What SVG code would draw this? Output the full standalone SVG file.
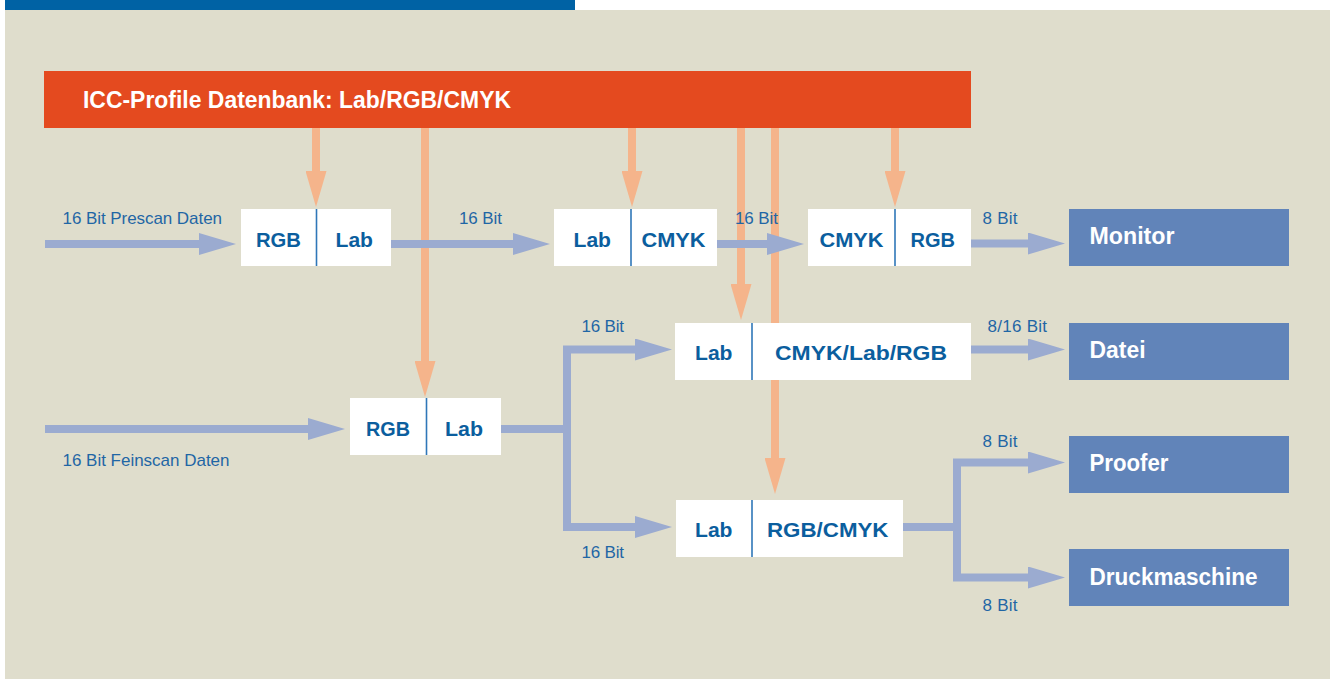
<svg xmlns="http://www.w3.org/2000/svg" width="1333" height="679" viewBox="0 0 1333 679">
<defs>
<style>
.bg{fill:#dfddcc}
.box{fill:#ffffff}
.div{stroke:#2f77b8;stroke-width:1.6}
.lbl{font-family:"Liberation Sans",Arial,sans-serif;font-weight:bold;font-size:21px;fill:#0b5e9e}
.tgt{fill:#6184b9}
.tlbl{font-family:"Liberation Sans",Arial,sans-serif;font-weight:bold;font-size:23px;fill:#ffffff}
.small{font-family:"Liberation Sans",Arial,sans-serif;font-size:17px;fill:#1f66a5}
.blue{fill:none;stroke:#9babd0;stroke-width:8;stroke-linejoin:miter}
.orange{fill:none;stroke:#f5b48b;stroke-width:8}
</style>
<marker id="ab" viewBox="0 0 37 22" refX="1" refY="11" markerWidth="37" markerHeight="22" markerUnits="userSpaceOnUse" orient="auto">
<path d="M0,0 L37,11 L0,22 z" fill="#9babd0"/>
</marker>
<marker id="ao" viewBox="0 0 36 21" refX="1" refY="10.5" markerWidth="36" markerHeight="21" markerUnits="userSpaceOnUse" orient="auto">
<path d="M0,0 L36,10.5 L0,21 z" fill="#f5b48b"/>
</marker>
</defs>
<rect x="0" y="0" width="1333" height="679" fill="#ffffff"/>
<rect class="bg" x="5" y="10" width="1325" height="669"/>
<rect x="5" y="0" width="570" height="10" fill="#0062a4"/>

<g id="connectors">
<path class="orange" d="M316,128 V172" marker-end="url(#ao)"/>
<path class="orange" d="M425,128 V362" marker-end="url(#ao)"/>
<path class="orange" d="M632,128 V172" marker-end="url(#ao)"/>
<path class="orange" d="M741,128 V285" marker-end="url(#ao)"/>
<path class="orange" d="M775,128 V459" marker-end="url(#ao)"/>
<path class="orange" d="M895,128 V172" marker-end="url(#ao)"/>
<path class="blue" d="M45,244 H200" marker-end="url(#ab)"/>
<path class="blue" d="M391,244 H514" marker-end="url(#ab)"/>
<path class="blue" d="M716,244 H768" marker-end="url(#ab)"/>
<path class="blue" d="M971,243.5 H1029" marker-end="url(#ab)"/>
<path class="blue" d="M45,429 H309" marker-end="url(#ab)"/>
<path class="blue" d="M501,429 H567"/>
<path class="blue" d="M567,527 V349.5 H636" marker-end="url(#ab)"/>
<path class="blue" d="M567,349.5 V527 H636" marker-end="url(#ab)"/>
<path class="blue" d="M971,349.5 H1029" marker-end="url(#ab)"/>
<path class="blue" d="M903,527 H957"/>
<path class="blue" d="M957,527 V462.5 H1029" marker-end="url(#ab)"/>
<path class="blue" d="M957,462.5 V577.5 H1029" marker-end="url(#ab)"/>
</g>

<g id="icc-db">
<rect x="44" y="71" width="927" height="57" fill="#e44a1f"/>
<text x="83" y="108" font-family="Liberation Sans, Arial, sans-serif" font-weight="bold" font-size="23.5" fill="#ffffff" textLength="428" lengthAdjust="spacingAndGlyphs">ICC-Profile Datenbank: Lab/RGB/CMYK</text>
</g>

<g id="node-rgb-lab-1">
<rect class="box" x="241" y="209" width="150" height="57"/>
<line class="div" x1="316.5" y1="209" x2="316.5" y2="266"/>
<text class="lbl" x="256" y="246.5" textLength="45" lengthAdjust="spacingAndGlyphs">RGB</text>
<text class="lbl" x="335.5" y="246.5" textLength="37.5" lengthAdjust="spacingAndGlyphs">Lab</text>
</g>

<g id="node-lab-cmyk">
<rect class="box" x="554" y="209" width="163" height="57"/>
<line class="div" x1="631" y1="209" x2="631" y2="266"/>
<text class="lbl" x="573.5" y="246.5" textLength="37.5" lengthAdjust="spacingAndGlyphs">Lab</text>
<text class="lbl" x="641.5" y="246.5" textLength="64" lengthAdjust="spacingAndGlyphs">CMYK</text>
</g>

<g id="node-cmyk-rgb">
<rect class="box" x="808" y="209" width="163" height="57"/>
<line class="div" x1="895" y1="209" x2="895" y2="266"/>
<text class="lbl" x="819.5" y="246.5" textLength="64" lengthAdjust="spacingAndGlyphs">CMYK</text>
<text class="lbl" x="910.5" y="246.5" textLength="44.5" lengthAdjust="spacingAndGlyphs">RGB</text>
</g>

<g id="node-lab-cmyklabrgb">
<rect class="box" x="675" y="323" width="296" height="57"/>
<line class="div" x1="752" y1="323" x2="752" y2="380"/>
<text class="lbl" x="695" y="359.5" textLength="37.5" lengthAdjust="spacingAndGlyphs">Lab</text>
<text class="lbl" x="775" y="359.5" textLength="172" lengthAdjust="spacingAndGlyphs">CMYK/Lab/RGB</text>
</g>

<g id="node-rgb-lab-2">
<rect class="box" x="350" y="398" width="151" height="57"/>
<line class="div" x1="426.5" y1="398" x2="426.5" y2="455"/>
<text class="lbl" x="366" y="435.5" textLength="44" lengthAdjust="spacingAndGlyphs">RGB</text>
<text class="lbl" x="445" y="435.5" textLength="38" lengthAdjust="spacingAndGlyphs">Lab</text>
</g>

<g id="node-lab-rgbcmyk">
<rect class="box" x="676" y="500" width="227" height="57"/>
<line class="div" x1="752" y1="500" x2="752" y2="557"/>
<text class="lbl" x="695" y="536.5" textLength="37.5" lengthAdjust="spacingAndGlyphs">Lab</text>
<text class="lbl" x="767" y="536.5" textLength="121.5" lengthAdjust="spacingAndGlyphs">RGB/CMYK</text>
</g>

<g id="node-monitor">
<rect class="tgt" x="1069" y="209" width="220" height="57"/>
<text class="tlbl" x="1089.5" y="244" textLength="85" lengthAdjust="spacingAndGlyphs">Monitor</text>
</g>
<g id="node-datei">
<rect class="tgt" x="1069" y="323" width="220" height="57"/>
<text class="tlbl" x="1089.5" y="357.5" textLength="56" lengthAdjust="spacingAndGlyphs">Datei</text>
</g>
<g id="node-proofer">
<rect class="tgt" x="1069" y="436" width="220" height="57"/>
<text class="tlbl" x="1089.5" y="470.5" textLength="79" lengthAdjust="spacingAndGlyphs">Proofer</text>
</g>
<g id="node-druckmaschine">
<rect class="tgt" x="1069" y="549" width="220" height="57"/>
<text class="tlbl" x="1089.5" y="584.5" textLength="168" lengthAdjust="spacingAndGlyphs">Druckmaschine</text>
</g>

<g id="labels">
<text class="small" x="62.5" y="224" textLength="159.5">16 Bit Prescan Daten</text>
<text class="small" x="459" y="224" textLength="43">16 Bit</text>
<text class="small" x="735" y="224" textLength="43">16 Bit</text>
<text class="small" x="982.5" y="224" textLength="35">8 Bit</text>
<text class="small" x="581.5" y="332" textLength="42.5">16 Bit</text>
<text class="small" x="987.5" y="332" textLength="59.5">8/16 Bit</text>
<text class="small" x="62.5" y="466" textLength="167">16 Bit Feinscan Daten</text>
<text class="small" x="982.5" y="447" textLength="35">8 Bit</text>
<text class="small" x="581.5" y="558" textLength="42.5">16 Bit</text>
<text class="small" x="982.5" y="611" textLength="35">8 Bit</text>
</g>
</svg>
